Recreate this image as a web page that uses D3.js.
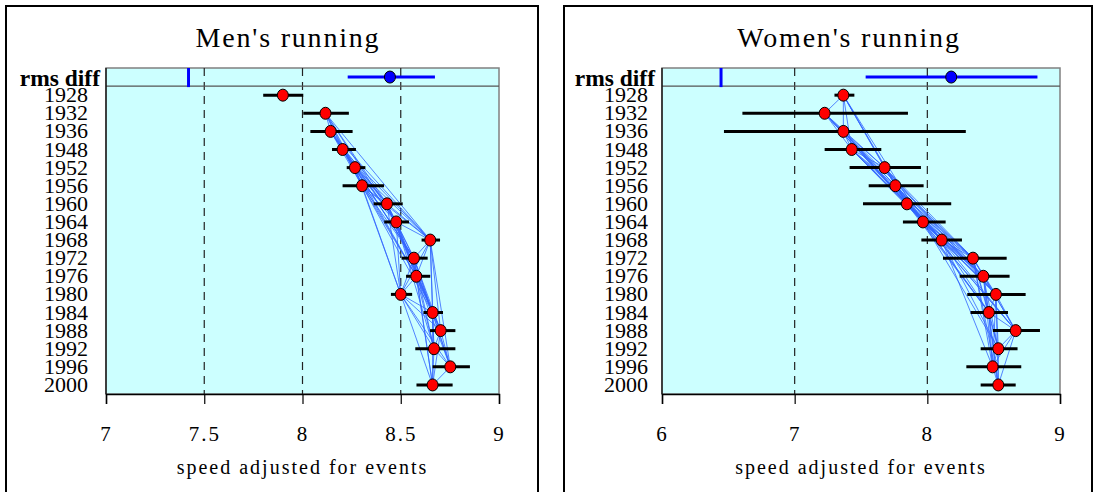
<!DOCTYPE html>
<html>
<head>
<meta charset="utf-8">
<script src="https://cdn.jsdelivr.net/npm/d3@7"></script>
<style>
  html, body { margin: 0; padding: 0; background: #fff; }
  svg { display: block; }
  text { font-family: "Liberation Serif", "Times New Roman", serif; fill: #000; }
</style>
</head>
<body>
<svg id="chart" width="1098" height="492"></svg>
<script>
// Olympic years shown on each panel
const years = ["1928", "1932", "1936", "1948", "1952", "1956", "1960", "1964",
               "1968", "1972", "1976", "1980", "1984", "1988", "1992", "1996", "2000"];

// Men: adjusted speed per games, with low / high interval
const menSpeed = [7.90, 8.117, 8.143, 8.204, 8.267, 8.303, 8.43, 8.477,
                  8.65, 8.567, 8.579, 8.50, 8.662, 8.703, 8.669, 8.752, 8.662];
const menLow   = [7.80, 8.004, 8.04, 8.15, 8.225, 8.204, 8.362, 8.416,
                  8.606, 8.504, 8.527, 8.45, 8.616, 8.649, 8.574, 8.662, 8.58];
const menHigh  = [8.004, 8.236, 8.255, 8.272, 8.32, 8.415, 8.51, 8.542,
                  8.70, 8.637, 8.65, 8.558, 8.715, 8.778, 8.778, 8.852, 8.764];
// Men: rms difference summary (marker, estimate, interval)
const menRmsMark = [7.42];
const menRms     = [8.445, 8.23, 8.674];

// Women: adjusted speed per games, with low / high interval
const womenSpeed = [7.367, 7.226, 7.367, 7.43, 7.678, 7.759, 7.846, 7.967,
                    8.108, 8.344, 8.422, 8.517, 8.464, 8.666, 8.535, 8.492, 8.535];
const womenLow   = [7.30, 6.606, 6.467, 7.226, 7.414, 7.558, 7.515, 7.816,
                    7.955, 8.118, 8.244, 8.301, 8.326, 8.494, 8.402, 8.294, 8.402];
const womenHigh  = [7.45, 7.854, 8.29, 7.653, 7.952, 7.972, 8.18, 8.138,
                    8.261, 8.598, 8.62, 8.741, 8.608, 8.849, 8.68, 8.708, 8.666];
// Women: rms difference summary (marker, estimate, interval)
const womenRmsMark = [6.445];
const womenRms     = [8.18, 7.535, 8.83];

// Axis ticks
const menTicks   = [7, 7.5, 8, 8.5, 9];
const womenTicks = [6, 7, 8, 9];

// Games compared with each other: pairs up to this many rows apart
const linkSpan = 7;

const serif = '"Liberation Serif", "Times New Roman", serif';
const svg = d3.select("#chart");

function drawPanel(cfg) {
  const g = svg.append("g");

  // outer frame (open at the bottom)
  g.append("path")
    .attr("d", `M${cfg.frame[0]},492 V6 H${cfg.frame[1]} V492`)
    .attr("fill", "none").attr("stroke", "#000").attr("stroke-width", 2);

  const x = d3.scaleLinear().domain(cfg.domain).range([cfg.left, cfg.right]);
  const rows = ["rms diff"].concat(years);
  const y = d3.scaleBand().domain(rows).range([68, 394]);
  const cy = r => y(r) + y.bandwidth() / 2;

  // plot background
  g.append("rect")
    .attr("x", cfg.left).attr("y", 68)
    .attr("width", cfg.right - cfg.left).attr("height", 394 - 68)
    .attr("fill", "#ccffff").attr("stroke", "#808080").attr("stroke-width", 1.5);

  // dashed vertical gridlines at inner ticks
  g.selectAll(".grid").data(cfg.ticks.slice(1, -1)).join("line")
    .attr("x1", d => x(d)).attr("x2", d => x(d))
    .attr("y1", 68).attr("y2", 394)
    .attr("stroke", "#222").attr("stroke-width", 1.2)
    .attr("stroke-dasharray", "8,6");

  // separator under the rms row
  g.append("line")
    .attr("x1", cfg.left).attr("x2", cfg.right)
    .attr("y1", y(years[0])).attr("y2", y(years[0]))
    .attr("stroke", "#555").attr("stroke-width", 1.2);

  // left edge and bottom axis
  g.append("line").attr("x1", cfg.left).attr("x2", cfg.left)
    .attr("y1", 68).attr("y2", 394).attr("stroke", "#000").attr("stroke-width", 1.2);

  const axis = d3.axisBottom(x).tickValues(cfg.ticks)
    .tickFormat(d3.format("")).tickSize(10).tickPadding(22);
  const ax = g.append("g").attr("transform", "translate(0,394)").call(axis);
  ax.select(".domain").attr("stroke", "#000").attr("stroke-width", 1.5);
  ax.selectAll(".tick line").attr("stroke", "#000").attr("stroke-width", 1.2);
  ax.selectAll(".tick text")
    .style("font-family", serif)
    .style("font-size", "21px").style("letter-spacing", "2px")
    .attr("fill", "#000");

  // connecting lines between games
  const links = [];
  for (let i = cfg.linkStart; i < years.length; i++) {
    for (let j = i + 1; j < years.length && j - i <= linkSpan; j++) links.push([i, j]);
  }
  g.selectAll(".link").data(links).join("line")
    .attr("x1", d => x(cfg.speed[d[0]])).attr("y1", d => cy(years[d[0]]))
    .attr("x2", d => x(cfg.speed[d[1]])).attr("y2", d => cy(years[d[1]]))
    .attr("stroke", "#3366ff").attr("stroke-width", 0.9).attr("stroke-opacity", 0.9);

  // interval bars
  g.selectAll(".bar").data(years).join("line")
    .attr("x1", (d, i) => x(cfg.low[i])).attr("x2", (d, i) => x(cfg.high[i]))
    .attr("y1", d => cy(d)).attr("y2", d => cy(d))
    .attr("stroke", "#000").attr("stroke-width", 3);

  // points
  g.selectAll(".pt").data(years).join("ellipse")
    .attr("cx", (d, i) => x(cfg.speed[i])).attr("cy", d => cy(d))
    .attr("rx", 5.5).attr("ry", 6)
    .attr("fill", "#ff0000").attr("stroke", "#000").attr("stroke-width", 1);

  // rms diff row
  const ry = cy("rms diff");
  g.append("line")
    .attr("x1", x(cfg.rmsMark[0])).attr("x2", x(cfg.rmsMark[0]))
    .attr("y1", 68).attr("y2", y(years[0]) + 1)
    .attr("stroke", "#0000ff").attr("stroke-width", 3);
  g.append("line")
    .attr("x1", x(cfg.rms[1])).attr("x2", x(cfg.rms[2]))
    .attr("y1", ry).attr("y2", ry)
    .attr("stroke", "#0000ff").attr("stroke-width", 3);
  g.append("ellipse")
    .attr("cx", x(cfg.rms[0])).attr("cy", ry)
    .attr("rx", 5.5).attr("ry", 6)
    .attr("fill", "#0000ff").attr("stroke", "#000").attr("stroke-width", 1);

  // row labels
  g.append("text")
    .attr("x", cfg.rmsLabelX).attr("y", 86)
    .attr("text-anchor", "end")
    .style("font-size", "23.5px").style("font-weight", "bold")
    .text("rms diff");
  g.selectAll(".yl").data(years).join("text")
    .attr("x", cfg.yearLabelX).attr("y", d => cy(d) + 7)
    .attr("text-anchor", "end")
    .style("font-size", "22px")
    .text(d => d);

  // title and axis title
  g.append("text")
    .attr("x", cfg.titleX).attr("y", 47)
    .attr("text-anchor", "middle")
    .style("font-size", "28px").style("letter-spacing", "1.8px")
    .text(cfg.title);
  g.append("text")
    .attr("x", (cfg.left + cfg.right) / 2).attr("y", 474)
    .attr("text-anchor", "middle")
    .style("font-size", "20px").style("letter-spacing", "2px")
    .text("speed adjusted for events");
}

drawPanel({
  title: "Men's running", titleX: 288,
  frame: [6, 538], left: 106, right: 499,
  domain: [7, 9], ticks: menTicks,
  speed: menSpeed, low: menLow, high: menHigh,
  rmsMark: menRmsMark, rms: menRms,
  linkStart: 1, rmsLabelX: 100, yearLabelX: 88
});

drawPanel({
  title: "Women's running", titleX: 849,
  frame: [564, 1092], left: 662, right: 1060,
  domain: [6, 9], ticks: womenTicks,
  speed: womenSpeed, low: womenLow, high: womenHigh,
  rmsMark: womenRmsMark, rms: womenRms,
  linkStart: 0, rmsLabelX: 655, yearLabelX: 648
});
</script>
</body>
</html>
